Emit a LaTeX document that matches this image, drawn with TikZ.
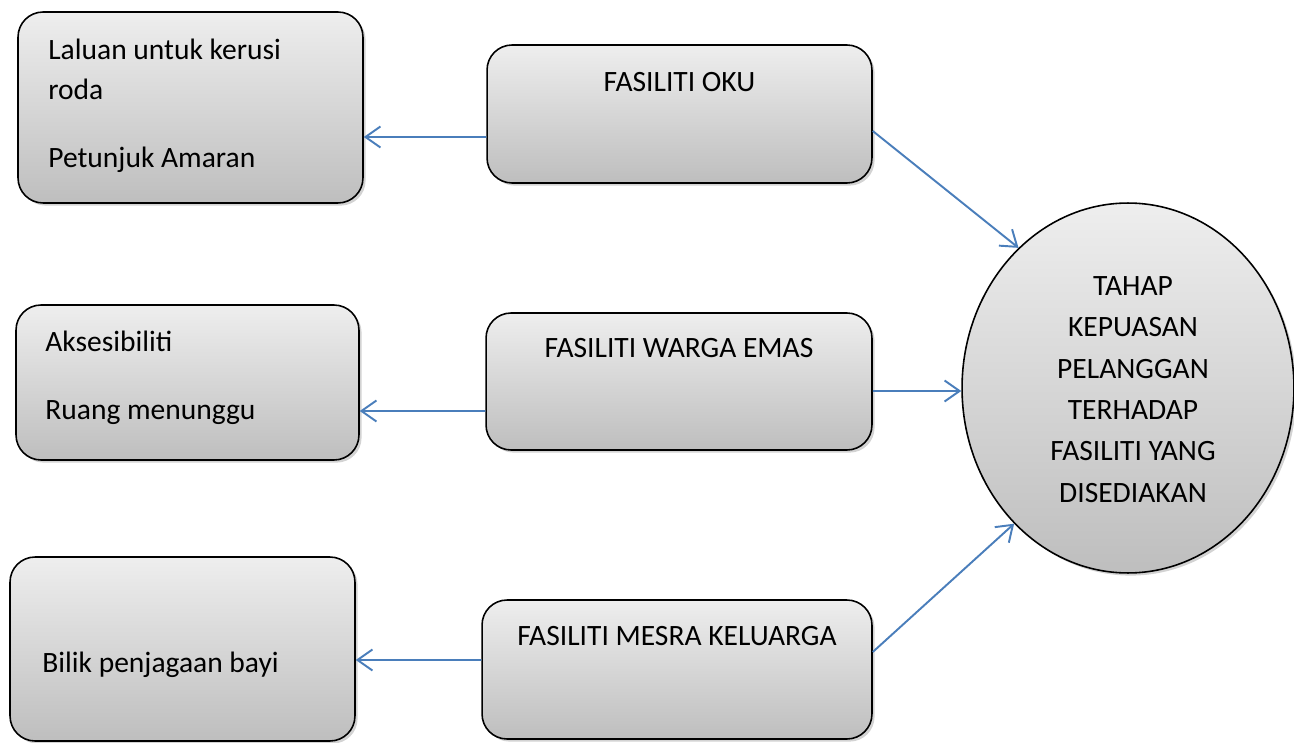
\documentclass[tikz,border=0pt]{standalone}
\usepackage{fontspec}
\setmainfont{Carlito}
\usetikzlibrary{arrows.meta,shadows,shapes.geometric,positioning}
\definecolor{box-top}{HTML}{EEEEEE}
\definecolor{box-bottom}{HTML}{BEBEBE}
\definecolor{arrow-blue}{HTML}{4A7EBB}
\tikzset{
    grey-box/.style = {draw=black, line width=0.9pt, rectangle, rounded corners=0.5cm, top color=box-top, bottom color=box-bottom, drop shadow={shadow xshift=1.5pt, shadow yshift=-1.5pt, opacity=0.35}},
    big-oval/.style = {draw=black, line width=0.9pt, ellipse, top color=box-top, bottom color=box-bottom, drop shadow={shadow xshift=1.5pt, shadow yshift=-1.5pt, opacity=0.35}, inner sep=0pt},
    box-text/.style = {font=\fontsize{16.8}{23.5}\selectfont, inner sep=0pt},
    blue-arrow/.style = {draw=arrow-blue, line width=1.1pt, -{Straight Barb[length=0.3cm, width=0.42cm]}},
}
\begin{document}
\begin{tikzpicture}[x=0.02cm, y=-0.02cm]
\useasboundingbox (0,0) rectangle (1294,743);
% boxes on the left
\node[grey-box, minimum width=6.9cm, minimum height=3.82cm] (laluan) at (190.5,107.5) {};
\node[grey-box, minimum width=6.86cm, minimum height=3.1cm] (akses) at (187.5,382.5) {};
\node[grey-box, minimum width=6.9cm, minimum height=3.68cm] (bilik) at (182.5,649) {};
% facility boxes
\node[grey-box, minimum width=7.7cm, minimum height=2.76cm] (oku) at (679.5,114) {};
\node[grey-box, minimum width=7.72cm, minimum height=2.74cm] (warga) at (679,381.5) {};
\node[grey-box, minimum width=7.8cm, minimum height=2.78cm] (mesra) at (677,669.5) {};
% result
\node[big-oval, minimum width=6.64cm, minimum height=7.4cm] (tahap) at (1128,388) {};
\node[box-text, align=center, anchor=base] (tahap-text) at (1133,502) {TAHAP\\KEPUASAN\\PELANGGAN\\TERHADAP\\FASILITI YANG\\DISEDIAKAN};

\node[box-text, anchor=base west] (laluan-1) at (48,60) {Laluan untuk kerusi};
\node[box-text, anchor=base west] (laluan-2) at (48,100) {roda};
\node[box-text, anchor=base west] (laluan-3) at (48,168) {Petunjuk Amaran};
\node[box-text, anchor=base west] (akses-1) at (45,351) {Aksesibiliti};
\node[box-text, anchor=base west] (akses-2) at (45,419) {Ruang menunggu};
\node[box-text, anchor=base west] (bilik-1) at (42,672) {Bilik penjagaan bayi};

\node[box-text, anchor=base] (oku-title) at ([yshift=-0.95cm]oku.north) {FASILITI OKU};
\node[box-text, anchor=base] (warga-title) at ([yshift=-0.9cm]warga.north) {FASILITI WARGA EMAS};
\node[box-text, anchor=base] (mesra-title) at ([yshift=-0.92cm]mesra.north) {FASILITI MESRA KELUARGA};

\draw[blue-arrow] ([yshift=-0.46cm]oku.west) -- ([yshift=-0.59cm]laluan.east);
\draw[blue-arrow] ([yshift=-0.59cm]warga.west) -- ([yshift=-0.57cm]akses.east);
\draw[blue-arrow] ([yshift=0.19cm]mesra.west) -- ([yshift=-0.22cm]bilik.east);
\draw[blue-arrow] ([yshift=-0.34cm]oku.east) -- (tahap.128);
\draw[blue-arrow] ([yshift=-0.19cm]warga.east) -- ([yshift=-0.06cm]tahap.west);
\draw[blue-arrow] ([yshift=0.35cm]mesra.east) -- (tahap.230);
\end{tikzpicture}
\end{document}
